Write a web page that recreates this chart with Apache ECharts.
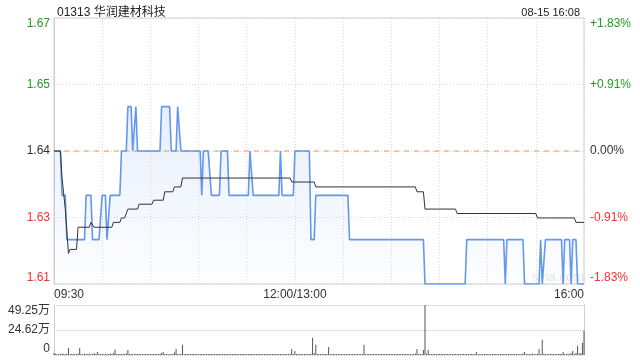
<!DOCTYPE html>
<html><head><meta charset="utf-8">
<script src="https://cdn.jsdelivr.net/npm/echarts@6/dist/echarts.min.js"></script>
<style>html,body{margin:0;padding:0;background:#fff}#c{width:640px;height:360px}</style>
</head><body><div id="c"></div>
<script>
// ---- data ----
const titleText = '01313 华润建材科技';
const timeText = '08-15 16:08';
const prevClose = 1.64;
// minute index (0 = 09:30, 150 = 12:00/13:00, 330 = 16:00)
const priceMinutes = [0,4,5,7,8,19,20,23,24,28,30,32,33,34,35,41,42,45,46,48,49,50,51,52,66,67,72,73,76,77,78,79,91,92,93,96,98,103,104,108,109,121,122,123,124,140,141,142,149,150,159,160,162,163,183,184,230,231,256,257,280,281,282,292,293,302,303,304,305,306,316,317,318,321,322,323,325,326,330];
const prices = [1.64,1.64,1.63,1.63,1.62,1.62,1.63,1.63,1.62,1.62,1.63,1.63,1.62,1.62,1.63,1.63,1.64,1.64,1.65,1.65,1.64,1.64,1.65,1.64,1.64,1.65,1.65,1.64,1.64,1.65,1.65,1.64,1.64,1.63,1.64,1.64,1.63,1.63,1.64,1.64,1.63,1.63,1.64,1.64,1.63,1.63,1.64,1.63,1.63,1.64,1.64,1.62,1.62,1.63,1.63,1.62,1.62,1.61,1.61,1.62,1.62,1.61,1.62,1.62,1.61,1.61,1.62,1.61,1.61,1.62,1.62,1.61,1.62,1.62,1.61,1.62,1.62,1.61,1.61];
const avgMinutes = [0,4,5,7,9,10,14,15,22,23,25,36,37,41,42,44,46,52,53,61,62,68,69,74,75,79,80,147,148,162,163,225,226,230,231,250,251,300,301,324,325,330];
const avgPrices = [1.64,1.64,1.634,1.627,1.6169,1.6178,1.6178,1.6228,1.6228,1.6239,1.6228,1.6228,1.6239,1.6239,1.6249,1.6249,1.6269,1.6269,1.628,1.628,1.6289,1.6289,1.6308,1.6308,1.6319,1.6319,1.6339,1.6339,1.633,1.633,1.6319,1.6319,1.6308,1.6308,1.6269,1.6269,1.6259,1.6259,1.6249,1.6249,1.6239,1.6239];
// volume per minute, in 万
const volumes = [
2,1.2,0.8,1,0.6,1.5,1,0.8,1.2,7,1,0.6,1.2,0.8,1,1.5,7,0.8,1,1.2,0.6,1,1.5,1,0.8,2,1,3,1.2,0.8,
1,0.6,1.2,0.8,1,1.5,0.8,2,5.5,1,0.6,0.8,1.2,1,0.6,1.5,5,1,0.8,0.6,1,1.2,0.6,0.8,1,0.5,0.8,1,0.6,0.8,
1,0.6,0.8,0.5,1,0.8,1.2,2,3,1,0.6,0.8,1,0.6,0.5,2.5,6,1,0.8,1.2,10,1,0.6,0.5,0.8,0.6,0.5,0.8,0.6,0.5,
0.6,0.5,0.8,0.6,0.5,0.6,0.4,0.5,0.6,0.8,0.5,0.4,0.6,0.5,0.8,0.5,0.4,0.6,0.5,0.4,0.6,0.5,0.8,0.5,0.4,0.5,0.6,0.4,0.5,0.6,
0.5,0.4,0.6,0.5,0.8,0.5,0.4,0.6,0.5,0.4,0.6,0.5,0.4,0.6,0.5,0.8,0.4,0.5,0.6,0.5,0.4,0.6,0.5,0.8,1,0.6,0.8,1.2,6,1,
4,0.8,0.6,0.5,0.8,0.6,0.5,0.8,1,0.6,1.2,17,2,10,1,0.8,0.6,0.8,0.6,0.5,0.8,8,0.6,0.5,0.8,0.6,0.5,0.6,0.8,0.5,
0.6,0.5,0.8,0.6,0.5,0.6,0.8,0.5,0.6,0.5,0.8,0.6,0.5,10,0.8,0.6,0.5,0.6,0.5,0.8,0.6,0.5,0.6,0.8,0.5,0.6,0.5,0.8,0.6,0.5,
0.6,0.5,0.8,0.6,0.5,0.6,0.8,0.5,0.6,0.5,0.8,0.6,0.5,0.8,1,1.5,6,0.8,0.6,1,5,49.25,1.5,5,1,0.8,0.6,0.8,0.6,0.5,
0.8,0.6,0.5,0.6,0.8,0.5,0.6,0.5,0.8,0.6,0.5,0.8,0.6,0.5,0.6,0.8,0.5,0.6,1,0.8,0.6,0.5,0.8,3,1,0.6,0.5,0.8,0.6,0.5,
0.8,0.6,1,0.5,0.8,0.6,1,0.5,0.6,0.8,1,0.6,0.5,0.8,1,0.6,0.8,0.5,1,0.6,0.8,1,1.5,3,0.8,1,0.6,0.8,1.5,1,
0.8,1.2,6,1,15,1.2,0.8,1,0.6,0.8,1.2,1,0.6,0.8,1,1.2,0.8,3,1,0.6,1.5,1,2,4,1,2,9,1.5,2,12,24
];
const priceTickLabels = ['1.61','1.63','1.64','1.65','1.67'];
const pctTickLabels = ['-1.83%','-0.91%','0.00%','+0.91%','+1.83%'];
const tickTone = ['r','r','n','g','g'];
const volTickLabels = ['0','24.62万','49.25万'];
const timeTickMinutes = [0,150,330];
const timeTickLabels = ['09:30','12:00/13:00','16:00'];

// ---- chart ----
const FONT = 'Arial, "Liberation Sans", "Noto Sans CJK SC", sans-serif';
const pMin = 1.61, pMax = 1.67, pInt = 0.015;
const vMax = 49.25;
const rich = {
  g:{color:'#1f9f1f',fontSize:12,fontFamily:FONT},
  r:{color:'#f03333',fontSize:12,fontFamily:FONT},
  n:{color:'#333',fontSize:12,fontFamily:FONT}
};
function pIdx(v){return Math.round((v-pMin)/pInt);}
const chart = echarts.init(document.getElementById('c'));
const option = {
  animation:false,
  textStyle:{fontFamily:FONT},
  title:[
    {text:titleText,left:52,top:2,textStyle:{fontSize:12,fontWeight:'normal',color:'#222',fontFamily:FONT}},
    {text:timeText,right:55,top:2,textStyle:{fontSize:11,fontWeight:'normal',color:'#222',fontFamily:FONT}}
  ],
  graphic:[{type:'text',left:532,top:271,style:{text:'sina.com',fill:'rgba(180,180,180,0.35)',font:'13px '+FONT}}],
  grid:[
    {left:54,right:56,top:18,height:266,show:true,borderColor:'#cfcfcf',borderWidth:1},
    {left:54,right:56,top:305,height:50}
  ],
  xAxis:[
    {gridIndex:0,type:'value',min:0,max:330,interval:30,
     axisLine:{show:false},axisTick:{show:false},
     splitLine:{show:true,lineStyle:{color:'#dadada',type:[1,2]}},
     axisLabel:{margin:5,fontSize:12,color:'#333',fontFamily:FONT,alignMinLabel:'left',alignMaxLabel:'right',
       formatter:v=>{const i=timeTickMinutes.indexOf(Math.round(v));return i>=0?timeTickLabels[i]:'';}}},
    {gridIndex:1,type:'value',min:0,max:330,interval:30,
     axisLine:{show:false},axisTick:{show:false},axisLabel:{show:false},splitLine:{show:false}}
  ],
  yAxis:[
    {gridIndex:0,type:'value',min:pMin,max:pMax,interval:pInt,position:'left',
     axisLine:{show:true,lineStyle:{color:'#cfcfcf'}},axisTick:{show:false},
     splitLine:{show:true,lineStyle:{color:'#d6d6d6',type:[1,2]}},
     axisLabel:{margin:4,rich:rich,verticalAlignMaxLabel:'top',verticalAlignMinLabel:'bottom',
       formatter:v=>{const i=pIdx(v);return '{'+tickTone[i]+'|'+priceTickLabels[i]+'}';}}},
    {gridIndex:0,type:'value',min:pMin,max:pMax,interval:pInt,position:'right',
     axisLine:{show:false},axisTick:{show:false},splitLine:{show:false},
     axisLabel:{margin:6,rich:rich,verticalAlignMaxLabel:'top',verticalAlignMinLabel:'bottom',
       formatter:v=>{const i=pIdx(v);return '{'+tickTone[i]+'|'+pctTickLabels[i]+'}';}}},
    {gridIndex:1,type:'value',min:0,max:vMax,interval:vMax/2,position:'left',
     axisLine:{show:true,lineStyle:{color:'#cfcfcf'}},axisTick:{show:false},
     splitLine:{show:true,lineStyle:{color:'#c8c8c8',type:[1,1]}},
     axisLabel:{margin:4,fontSize:12,color:'#333',fontFamily:FONT,verticalAlignMaxLabel:'top',verticalAlignMinLabel:'bottom',
       formatter:v=>volTickLabels[Math.round(v/(vMax/2))]}},
    {gridIndex:1,type:'value',min:0,max:vMax,interval:vMax/2,position:'right',
     axisLine:{show:true,lineStyle:{color:'#cfcfcf'}},axisTick:{show:false},axisLabel:{show:false},splitLine:{show:false}}
  ],
  series:[
    {type:'line',xAxisIndex:0,yAxisIndex:0,showSymbol:false,symbol:'none',silent:true,
     data:[[0,prevClose],[330,prevClose]],
     lineStyle:{color:'#f7954a',type:[5,5],width:1},z:1},
    {type:'line',xAxisIndex:0,yAxisIndex:0,showSymbol:false,symbol:'none',
     data:priceMinutes.map((t,i)=>[t,prices[i]]),
     lineStyle:{color:'#6398ee',width:1.6},
     areaStyle:{origin:'start',color:new echarts.graphic.LinearGradient(0,0,0,1,[
       {offset:0,color:'rgba(90,140,235,0.2)'},{offset:1,color:'rgba(90,140,235,0.02)'}])},
     z:2},
    {type:'line',xAxisIndex:0,yAxisIndex:0,showSymbol:false,symbol:'none',
     data:avgMinutes.map((t,i)=>[t,avgPrices[i]]),
     lineStyle:{color:'#333',width:1},z:3},
    {type:'bar',xAxisIndex:1,yAxisIndex:2,barWidth:1,barMinHeight:1,
     data:volumes.map((v,i)=>[i,v]),itemStyle:{color:'#555'}}
  ]
};
chart.setOption(option);
</script>
</body></html>
